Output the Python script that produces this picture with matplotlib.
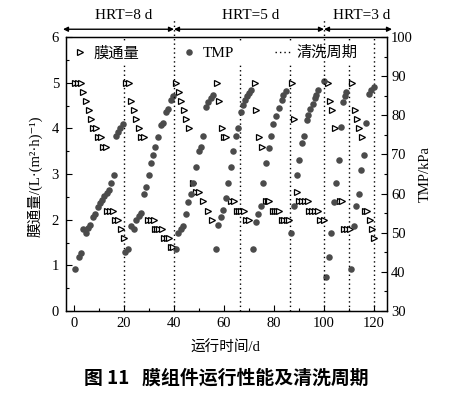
import matplotlib
matplotlib.use('Agg')
import matplotlib.pyplot as plt
from matplotlib.lines import Line2D
from matplotlib.ticker import MultipleLocator

SERIF = ['Liberation Serif', 'Noto Sans CJK SC', 'DejaVu Sans']
plt.rcParams['font.family'] = SERIF

# ---------------- data ----------------
flux_day = [0.5, 1.7, 2.9, 3.6, 4.9, 6.0, 6.9, 7.7, 8.9, 9.7, 10.9, 11.5, 12.7,
            13.2, 14.4, 15.6, 16.4, 17.6, 18.9, 19.9,
            20.8, 22.0, 22.9, 23.9, 24.9, 26.0, 26.8, 28.0,
            29.6, 30.8, 31.9, 32.3, 33.2, 34.1, 35.0, 36.0, 37.0, 38.0, 38.8, 39.7,
            40.9, 41.9, 42.9, 43.9, 44.8, 46.0, 47.6, 48.7, 49.9, 51.6, 53.5, 55.3,
            57.2, 58.1, 59.2, 60.1, 60.9, 63.0, 64.2, 65.2, 66.1, 67.0, 67.9, 69.0, 69.9,
            72.3, 72.8, 73.9, 75.2, 76.7, 77.4, 78.1, 79.4, 80.3, 81.2, 82.1,
            83.1, 84.1, 85.1, 86.1,
            87.1, 88.1, 89.0, 90.0, 91.1, 92.3, 93.4, 94.0, 95.1, 96.3, 97.4, 98.5, 100.0,
            101.4, 102.4, 103.2, 104.4, 106.5, 107.3, 108.0, 109.1, 110.3,
            111.2, 112.4, 113.1, 114.2, 115.2, 116.3, 117.4, 118.5, 119.4, 120.1]
flux_val = [5.0, 5.0, 5.0, 4.8, 4.6, 4.4, 4.2, 4.0, 4.0, 3.8, 3.8, 3.6, 3.6,
            2.2, 2.2, 2.2, 2.0, 2.0, 1.8, 1.6,
            5.0, 5.0, 4.6, 4.4, 4.2, 4.0, 3.8, 3.8,
            2.0, 2.0, 2.0, 1.8, 1.8, 1.8, 1.8, 1.6, 1.6, 1.6, 1.4, 1.4,
            5.0, 4.8, 4.6, 4.4, 4.2, 4.0, 2.8, 2.6, 2.6, 2.4, 2.2, 2.0,
            5.0, 4.6, 4.0, 3.8, 3.8, 2.4, 2.4, 2.2, 2.2, 2.2, 2.2, 2.0, 2.0,
            5.0, 4.4, 3.8, 3.6, 2.4, 2.4, 2.4, 2.2, 2.2, 2.2, 2.2,
            2.0, 2.0, 2.0, 2.0,
            5.0, 4.2, 2.6, 2.4, 2.4, 2.4, 2.4, 2.2, 2.2, 2.2, 2.2, 2.0, 2.0,
            5.0, 4.6, 4.4, 4.0, 2.4, 2.4, 1.8, 1.8, 1.8,
            5.0, 4.4, 4.2, 4.0, 3.8, 2.2, 2.2, 2.0, 1.8, 1.6]

tmp_day = [0.5, 1.9, 2.7, 3.7, 4.8, 5.6, 6.5, 7.7, 8.5, 9.6, 10.4, 11.2, 12.1, 13.1,
           13.9, 14.8, 15.9, 16.6, 17.5, 18.5, 19.5,
           20.5, 21.5, 22.8, 23.9, 24.8, 25.9, 26.8, 27.9, 28.8, 29.9, 30.8, 31.7,
           32.5, 33.5, 34.8, 35.7, 36.8, 37.5, 38.8, 39.7,
           40.8, 41.7, 42.7, 43.7, 44.7, 45.7, 46.8, 47.7, 48.8, 50.1, 50.8, 51.7,
           52.8, 53.7, 54.7, 55.7,
           56.8, 57.7, 58.7, 59.7, 60.8, 61.7, 62.8, 63.7, 64.8, 65.7, 67.0, 67.8,
           68.6, 69.4, 70.2, 71.0,
           71.7, 72.8, 73.7, 74.8, 75.7, 76.9, 78.1, 78.7, 79.7, 80.8, 82.1, 83.1,
           83.7, 84.8,
           86.8, 88.1, 89.0, 90.0, 91.1, 92.0, 93.0, 93.8, 94.6, 95.4, 96.2, 97.0,
           97.8, 100.1,
           101.0, 102.0, 103.0, 104.0, 105.0, 106.0, 107.0, 107.7, 108.4, 109.0,
           111.0, 112.0, 113.0, 114.0, 115.0, 116.0, 117.0, 118.2, 119.0, 120.0]
tmp_val = [40.8, 43.9, 44.7, 50.9, 50.0, 51.1, 52.0, 54.0, 54.8, 56.6, 57.5, 58.4, 59.4, 60.2,
           60.9, 62.8, 64.7, 74.7, 75.8, 76.8, 77.8,
           45.2, 45.8, 51.7, 50.9, 53.2, 54.3, 55.0, 59.9, 61.8, 64.7, 67.7, 69.9,
           71.8, 74.5, 77.5, 78.1, 80.9, 81.5, 83.9, 84.9,
           45.8, 49.9, 50.9, 51.7, 54.8, 57.8, 59.8, 62.8, 66.8, 71.0, 71.8, 74.8,
           82.0, 83.5, 84.3, 85.2,
           45.8, 52.0, 54.0, 55.8, 58.8, 62.8, 66.9, 70.9, 74.8, 76.8, 80.9, 82.6,
           83.8, 84.9, 85.8, 86.5,
           45.8, 52.8, 54.8, 56.7, 62.8, 67.8, 71.7, 74.8, 77.8, 79.8, 81.9, 83.9,
           85.2, 86.2,
           49.9, 56.8, 64.7, 68.7, 72.8, 74.8, 78.8, 80.0, 81.5, 83.0, 84.3, 85.3,
           86.5, 88.7,
           38.8, 43.7, 49.9, 57.8, 62.8, 68.7, 76.9, 83.5, 84.8, 86.0,
           40.7, 51.7, 56.8, 59.8, 65.9, 69.9, 78.0, 85.4, 86.5, 87.2]

clean_days = [20, 66.4, 86.4, 110, 120]
hrt_change_days = [40, 100]
hrt_labels = ['HRT=8 d', 'HRT=5 d', 'HRT=3 d']
legend_labels = ['膜通量', 'TMP', '清洗周期']

# ---------------- figure ----------------
fig = plt.figure(figsize=(4.56, 3.95), dpi=100)
ax1 = fig.add_axes([66 / 456, 1 - 311 / 395, 321 / 456, 274 / 395])
ax2 = ax1.twinx()

XMIN, XMAX = -3.2, 125.2
ax1.set_xlim(XMIN, XMAX)
ax1.set_ylim(0, 6)
ax2.set_ylim(30, 100)

dot_style = dict(ls=(0, (1, 2.2)), color='black', lw=1.0)
for d in clean_days:
    ax1.axvline(d, zorder=1, **dot_style)

fl, = ax1.plot(flux_day, flux_val, ls='none', marker='>', ms=4.3, mfc='white',
               mec='black', mew=0.9, zorder=3)
tm, = ax2.plot(tmp_day, tmp_val, ls='none', marker='o', ms=4.7, mfc='#4b4b4b',
               mec='#4b4b4b', mew=0, zorder=2)

# HRT boundaries drawn above legend and extended above axes
for d in hrt_change_days:
    ax2.plot([d, d], [0, 6.37], transform=ax1.transData, clip_on=False, zorder=7,
             **dot_style)

# top arrows + labels
bounds = [XMIN - 1.2] + hrt_change_days + [XMAX + 2.0]
for i, lab in enumerate(hrt_labels):
    x0, x1 = bounds[i], bounds[i + 1]
    ax1.annotate('', xy=(x1, 6.17), xytext=(x0, 6.17), xycoords='data',
                 arrowprops=dict(arrowstyle='<|-|>', color='black', lw=1.0,
                                 mutation_scale=7, shrinkA=0, shrinkB=0),
                 annotation_clip=False)
centers = [20, 70.8, 115]
for c, lab in zip(centers, hrt_labels):
    ax1.text(c, 6.48, lab, ha='center', va='center', fontsize=11, clip_on=False)

# ticks
ax1.xaxis.set_major_locator(MultipleLocator(20))
ax1.xaxis.set_minor_locator(MultipleLocator(10))
ax1.yaxis.set_major_locator(MultipleLocator(1))
ax1.yaxis.set_minor_locator(MultipleLocator(0.5))
ax2.yaxis.set_major_locator(MultipleLocator(10))
ax2.yaxis.set_minor_locator(MultipleLocator(5))
ax1.tick_params(which='both', direction='in', top=False, right=False, labelsize=10.5)
ax1.tick_params(which='major', length=4, width=0.8)
ax1.tick_params(which='minor', length=2.2, width=0.8)
ax2.tick_params(which='both', direction='in', labelsize=10.5)
ax2.tick_params(which='major', length=4, width=0.8)
ax2.tick_params(which='minor', length=2.2, width=0.8)
ax1.tick_params(axis='x', pad=4)
ax1.tick_params(axis='y', pad=5)
ax2.tick_params(axis='y', pad=3)
for sp in list(ax1.spines.values()) + list(ax2.spines.values()):
    sp.set_linewidth(0.9)

# legend
handles = [
    Line2D([], [], ls='none', marker='>', ms=4.3, mfc='white', mec='black', mew=0.9),
    Line2D([], [], ls='none', marker='o', ms=4.7, mfc='#4b4b4b', mec='#4b4b4b', mew=0),
    Line2D([], [], **dot_style),
]
leg = ax2.legend(handles, legend_labels, loc='upper left', bbox_to_anchor=(0.011, 0.978),
                 ncol=3, frameon=True, fancybox=False, edgecolor='none', facecolor='white',
                 framealpha=1, fontsize=11, handlelength=1.0, handletextpad=0.4,
                 columnspacing=2.7, borderpad=0.2, borderaxespad=0)
leg.set_zorder(5)

# labels
fig.text(225 / 456, 1 - 348 / 395, '运行时间/d', ha='center', va='center', fontsize=10.5)
fig.text(35 / 456, 1 - 176 / 395, '膜通量/(L·(m²·h)⁻¹)', ha='center', va='center',
         rotation=90, fontsize=10.5)
fig.text(425 / 456, 1 - 174 / 395, 'TMP/kPa', ha='center', va='center', rotation=90,
         fontsize=10.5)
fig.text(226 / 456, 1 - 378 / 395, '图 11   膜组件运行性能及清洗周期', ha='center',
         va='center', fontsize=13.6, fontweight='bold',
         family=['Noto Sans CJK SC', 'DejaVu Sans'])

fig.savefig('out.png', dpi=100)
